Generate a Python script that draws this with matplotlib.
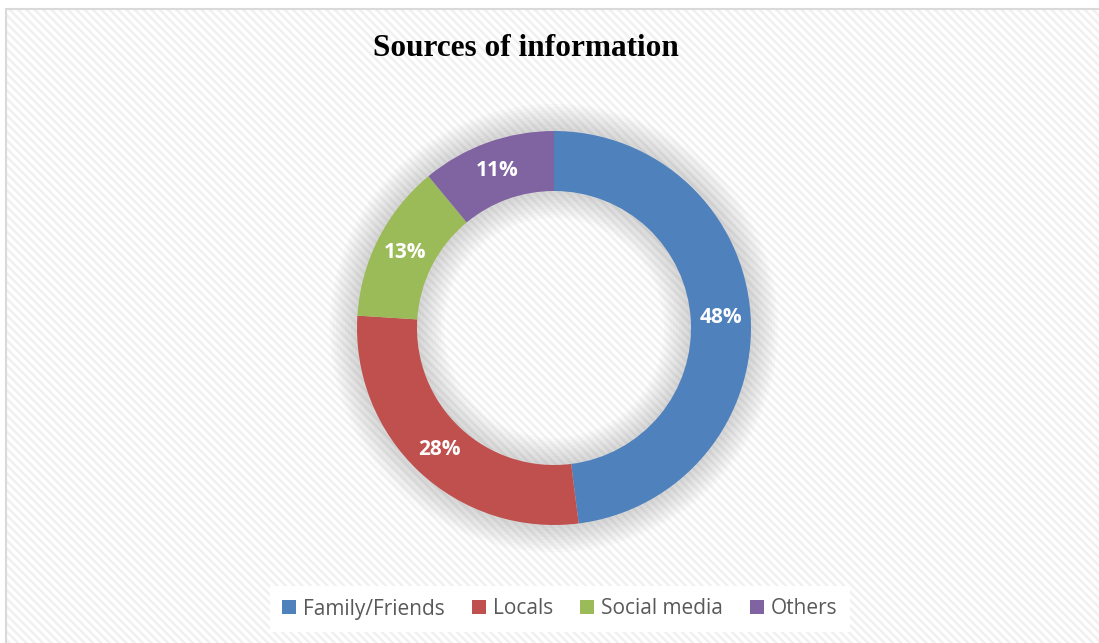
import matplotlib
matplotlib.use("Agg")
from matplotlib import pyplot as plt
import matplotlib.patches as ptc
import numpy as np

## DATA
labels = ["Family/Friends", "Locals", "Social media", "Others"]
shares = [48, 28, 13, 11]
colors = ["#4f81bd", "#c0504d", "#9bbb59", "#8064a2"]

W, H = 1099, 643
cx, cy = 554, H - 328
r_out = 197
ring = 60

plt.rcParams["hatch.linewidth"] = 1.8

fig = plt.figure(figsize=(W / 100, H / 100), dpi=100)
ax = fig.add_axes([0, 0, 1, 1])

# hatched chart area with thin border
bg = ptc.Rectangle((6, -10), W, H - 9 + 10, facecolor="white",
                   edgecolor="#f0f0f0", linewidth=0, hatch="\\\\\\\\", zorder=0)
ax.add_patch(bg)
ax.add_patch(ptc.Rectangle((6, -10), W, H - 9 + 10, facecolor="none",
                           edgecolor="#d9d9d9", linewidth=1.5, zorder=1))

# soft shadow around the ring
for k in range(1, 10):
    glow = ptc.Wedge((cx, cy), r_out + 3 * k, 0, 360, width=ring + 6 * k,
                     facecolor="#7f7f7f", edgecolor="none", alpha=0.035, zorder=2)
    ax.add_patch(glow)

wedges, _ = ax.pie(shares, colors=colors, startangle=90, counterclock=False,
                   radius=r_out, center=(cx, cy),
                   wedgeprops=dict(width=ring, edgecolor="none"))
for w in wedges:
    w.set_zorder(3)

# pie resets the limits, so set them afterwards
ax.set_xlim(0, W)
ax.set_ylim(0, H)
ax.set_aspect("equal")
ax.axis("off")

# percent labels in the middle of the ring
start = 90.0
r_mid = r_out - ring / 2
for v in shares:
    mid = start - v * 3.6 / 2
    a = np.deg2rad(mid)
    ax.text(cx + r_mid * np.cos(a), cy + r_mid * np.sin(a), f"{v}%",
            ha="center", va="center", color="white", fontsize=15,
            fontweight="bold", family="Open Sans", zorder=4)
    start -= v * 3.6

ax.text(526, H - 49, "Sources of information", ha="center", va="center",
        fontsize=22.5, fontweight="bold", family="Liberation Serif", zorder=4)

handles = [ptc.Patch(facecolor=c, edgecolor="none") for c in colors]
leg = ax.legend(handles, labels, loc="center", bbox_to_anchor=(560 / W, 1 - 609 / H),
                ncol=4, frameon=True, handlelength=0.65,
                handleheight=0.65, handletextpad=0.35, columnspacing=1.3,
                borderpad=0.6, fancybox=False,
                prop=dict(family="Open Sans", size=15))
leg.get_frame().set_facecolor("white")
leg.get_frame().set_edgecolor("none")
leg.get_frame().set_alpha(1)
for t in leg.get_texts():
    t.set_color("#595959")

fig.savefig("out.png", dpi=100)
